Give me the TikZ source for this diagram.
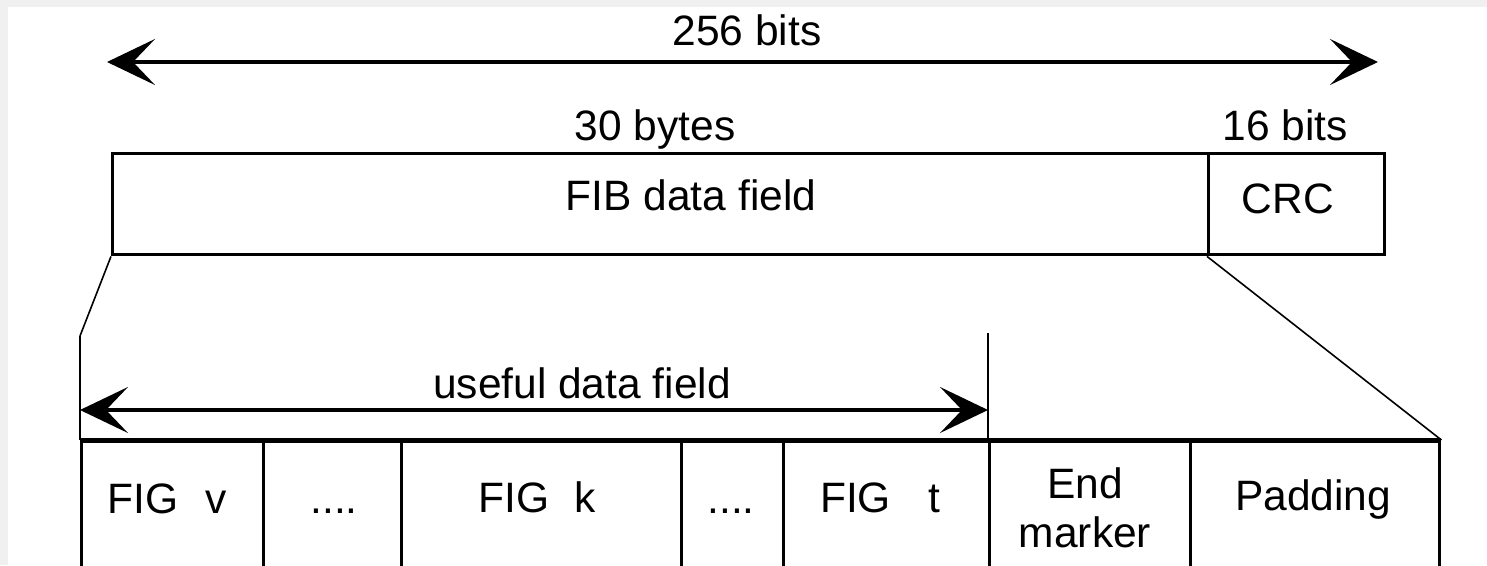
\documentclass[tikz,border=0pt]{standalone}
\usepackage{fontspec}
\setmainfont{Liberation Sans}
\usetikzlibrary{arrows.meta,calc}
\definecolor{bgc}{RGB}{241,240,240}
\begin{document}
\begin{tikzpicture}[x=1pt,y=-1pt,
  lbl/.style={font=\fontsize{42.5}{50}\selectfont, inner sep=0pt, anchor=base},
  cell/.style={draw, line width=3.4pt, anchor=north west, inner sep=0pt, minimum height=140pt},
  dim/.style={line width=3.4pt, {Stealth[length=48pt,width=46pt,inset=22pt]}-{Stealth[length=48pt,width=46pt,inset=22pt]}},
  guide/.style={line width=1.6pt},
  edge/.style={line width=2.2pt}]
\useasboundingbox (0,0) rectangle (1487,565);
\fill[bgc] (0,0) rectangle (1487,565);
\fill[white] (8,7) rectangle (1487,565);
% top dimension
\coordinate (al) at (107,62);
\coordinate (ar) at (1378,62);
\draw[dim] (al) -- (ar);
\node[lbl] (t256) at (747,45) {256 bits};
% top boxes
\node[cell, minimum width=1096pt, minimum height=101pt] (fib) at (111,152) {};
\node[cell, minimum width=176pt, minimum height=101pt] (crc) at (1207,152) {};
\node[lbl] (l30) at (655,140) {30 bytes};
\node[lbl] (l16) at (1285,140) {16 bits};
\node[lbl] (lfib) at (691,210) {FIB data field};
\node[lbl] (lcrc) at (1288,213) {CRC};
% bottom cells
\node[cell, minimum width=182pt] (figv) at (80,440) {};
\node[cell, minimum width=138pt] (dotsa) at (262,440) {};
\node[cell, minimum width=280pt] (figk) at (400,440) {};
\node[cell, minimum width=102pt] (dotsb) at (680,440) {};
\node[cell, minimum width=206pt] (figt) at (782,440) {};
\node[cell, minimum width=201pt] (endm) at (988,440) {};
\node[cell, minimum width=249pt] (pad) at (1189,440) {};
\draw[line width=4.8pt] (figv.north west) -- (pad.north east);
% cell labels
\node[lbl] (lv) at (167,513) {FIG\hspace{27pt}v};
\node[lbl] (lda) at (334,513) {....};
\node[lbl] (lk) at (537,512) {FIG\hspace{25pt}k};
\node[lbl] (ldb) at (731,513) {....};
\node[lbl] (lt) at (880,512) {FIG\hspace{37pt}t};
\node[lbl] (le1) at (1085,498) {End};
\node[lbl] (le2) at (1085,547) {marker};
\node[lbl] (lp) at (1313,510) {Padding};
% zoom lines
\coordinate (zl) at (80,336);
\coordinate (zt) at (988,333);
\draw[guide] (fib.south west) -- (zl);
\draw[guide] (crc.south west) -- (pad.north east);
\draw[edge] (zl) -- (figv.north west);
\draw[edge] (zt) -- (endm.north west);
% useful data field
\coordinate (ul) at (80,410);
\coordinate (ur) at (988,410);
\draw[dim] (ul) -- (ur);
\node[lbl] (lu) at (582,398) {useful data field};
\end{tikzpicture}
\end{document}
